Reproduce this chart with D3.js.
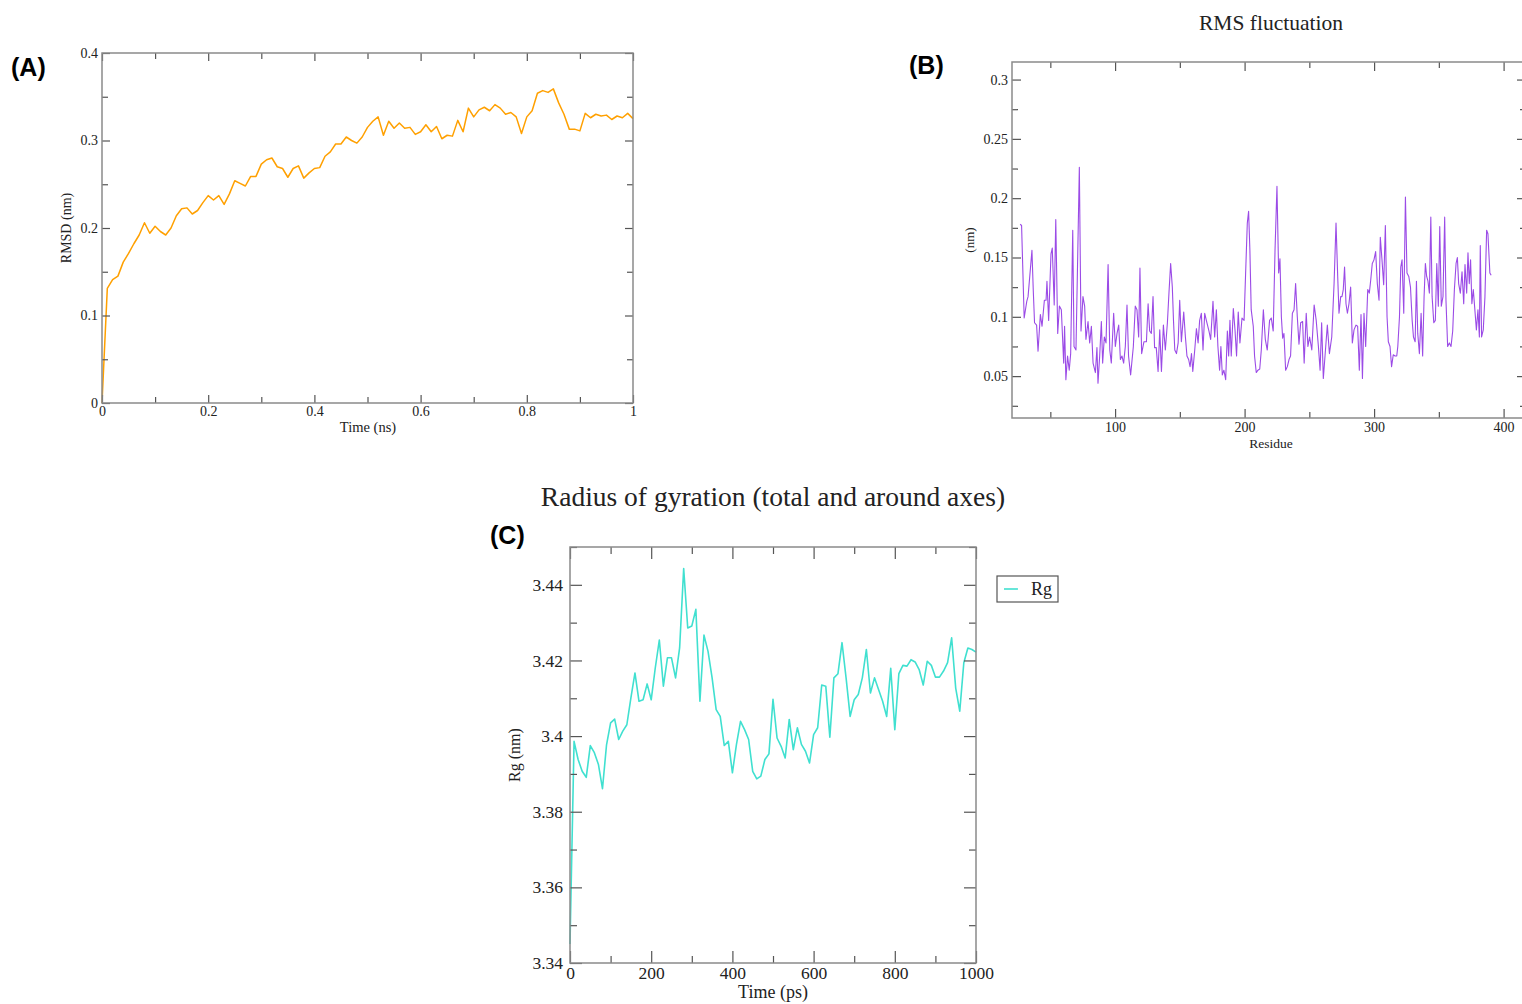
<!DOCTYPE html>
<html><head><meta charset="utf-8">
<script src="https://cdn.jsdelivr.net/npm/d3@7"></script>
<style>
body{margin:0;background:#fff;}
svg{display:block;}
</style></head>
<body>
<svg id="chart" width="1522" height="1004"></svg>
<script>
// ---------- Panel A: RMSD (nm) vs Time (ns) ----------
const rmsdTime = [0,0.01,0.02,0.03,0.04,0.05,0.06,0.07,0.08,0.09,0.10,0.11,0.12,0.13,0.14,0.15,0.16,0.17,0.18,0.19,
  0.20,0.21,0.22,0.23,0.24,0.25,0.26,0.27,0.28,0.29,0.30,0.31,0.32,0.33,0.34,0.35,0.36,0.37,0.38,0.39,
  0.40,0.41,0.42,0.43,0.44,0.45,0.46,0.47,0.48,0.49,0.50,0.51,0.52,0.53,0.54,0.55,0.56,0.57,0.58,0.59,
  0.60,0.61,0.62,0.63,0.64,0.65,0.66,0.67,0.68,0.69,0.70,0.71,0.72,0.73,0.74,0.75,0.76,0.77,0.78,0.79,
  0.80,0.81,0.82,0.83,0.84,0.85,0.86,0.87,0.88,0.89,0.90,0.91,0.92,0.93,0.94,0.95,0.96,0.97,0.98,0.99,1.00];
const rmsdValue = [0,0.131,0.141,0.145,0.161,0.171,0.182,0.192,0.206,0.194,0.202,0.196,0.192,0.200,0.214,0.222,0.223,0.216,0.220,0.229,
  0.237,0.232,0.237,0.227,0.239,0.254,0.251,0.248,0.259,0.259,0.273,0.278,0.280,0.270,0.268,0.258,0.268,0.271,0.257,0.263,
  0.268,0.269,0.282,0.287,0.296,0.296,0.304,0.300,0.297,0.304,0.315,0.322,0.327,0.306,0.322,0.314,0.320,0.314,0.315,0.307,
  0.310,0.318,0.310,0.316,0.302,0.306,0.305,0.323,0.310,0.337,0.327,0.335,0.338,0.334,0.341,0.337,0.330,0.332,0.327,0.308,
  0.327,0.334,0.354,0.357,0.355,0.359,0.343,0.330,0.313,0.313,0.311,0.331,0.326,0.330,0.328,0.329,0.324,0.328,0.326,0.331,0.325];
const aXTicks = [0,0.2,0.4,0.6,0.8,1];
const aXTickLabels = ["0","0.2","0.4","0.6","0.8","1"];
const aYTicks = [0,0.1,0.2,0.3,0.4];
const aYTickLabels = ["0","0.1","0.2","0.3","0.4"];

// ---------- Panel B: RMS fluctuation (nm) vs Residue ----------
const rmsfResidue = [26.7,27.8,29.8,31.8,32.8,35.8,36.8,37.8,39.4,40.5,42.3,43.6,45.4,46.7,47.4,48.7,50.5,51.5,53.0,54.2,
  55.7,57.0,58.5,60.3,61.0,62.0,63.3,64.6,65.7,67.3,68.3,69.8,72.4,73.7,75.2,76.5,77.5,79.1,80.4,81.7,
  83.0,84.8,86.0,86.8,88.1,89.4,90.4,91.7,93.0,94.6,95.9,97.1,98.9,100.2,101.5,102.8,104.1,105.3,106.6,107.9,
  109.2,110.4,112.0,114.1,115.6,116.9,118.2,119.2,120.5,122.3,124.2,125.5,126.7,128.0,129.3,130.5,131.8,133.2,134.5,135.8,
  137.3,138.8,140.4,141.6,142.9,144.2,145.1,146.1,147.4,148.7,149.9,151.2,153.0,154.3,155.5,156.8,157.9,159.0,160.0,161.5,
  162.8,164.1,165.3,166.6,167.9,169.2,170.7,172.5,173.8,175.6,176.9,178.2,179.4,180.7,181.7,182.8,184.0,185.4,186.7,187.7,
  188.7,189.7,191.3,192.6,193.8,195.1,196.4,198.0,199.6,200.8,202.1,203.1,204.1,205.1,206.7,207.7,209.0,210.3,211.7,212.9,
  214.5,216.0,217.5,219.3,220.6,222.1,223.5,225.0,226.3,227.3,228.4,229.4,230.4,231.7,233.0,234.3,235.5,236.9,238.2,239.4,
  240.7,242.0,243.3,244.8,246.0,247.6,248.9,250.2,251.9,253.7,255.3,257.0,258.3,259.5,260.8,262.1,263.9,265.5,267.3,269.1,
  270.6,271.9,272.9,274.2,275.2,276.2,277.2,278.3,279.4,280.6,281.9,283.2,284.5,286.0,287.3,288.6,289.9,291.0,292.2,293.5,
  295.1,296.3,297.4,298.6,299.9,301.2,302.5,303.8,304.8,306.1,307.4,308.7,310.0,311.0,312.3,313.5,314.8,316.2,317.5,318.3,
  319.6,320.6,321.6,322.9,324.2,325.4,326.8,328.1,329.4,330.4,331.7,332.7,333.7,335.0,336.3,337.5,338.6,339.6,340.6,341.6,
  342.7,343.8,344.8,346.1,347.3,348.4,349.6,350.7,351.9,353.2,354.5,355.5,356.8,358.1,359.4,360.7,362.0,363.3,364.3,365.3,
  366.6,367.9,369.2,370.2,371.5,372.5,373.5,374.5,375.5,376.6,377.6,379.0,380.2,381.3,382.0,383.0,384.3,385.6,386.9,387.9,
  389.4,390.4];
const rmsfValue = [0.178,0.177,0.099,0.113,0.117,0.156,0.123,0.095,0.093,0.071,0.102,0.092,0.114,0.114,0.130,0.097,0.153,0.158,0.110,0.182,
  0.086,0.109,0.106,0.061,0.092,0.047,0.067,0.055,0.069,0.173,0.075,0.072,0.226,0.088,0.117,0.109,0.081,0.096,0.078,0.092,
  0.061,0.053,0.074,0.044,0.067,0.096,0.061,0.083,0.078,0.144,0.072,0.061,0.103,0.075,0.086,0.093,0.064,0.067,0.061,0.075,
  0.110,0.067,0.051,0.075,0.109,0.106,0.083,0.141,0.069,0.079,0.079,0.111,0.088,0.086,0.117,0.074,0.074,0.054,0.089,0.054,
  0.093,0.072,0.095,0.120,0.145,0.125,0.097,0.072,0.069,0.078,0.114,0.079,0.104,0.083,0.067,0.064,0.058,0.069,0.054,0.072,
  0.090,0.078,0.097,0.103,0.072,0.103,0.096,0.088,0.081,0.113,0.083,0.106,0.075,0.055,0.075,0.051,0.055,0.047,0.088,0.067,
  0.097,0.067,0.107,0.089,0.067,0.104,0.078,0.099,0.097,0.137,0.179,0.189,0.156,0.106,0.092,0.067,0.053,0.055,0.056,0.072,
  0.106,0.081,0.072,0.097,0.099,0.088,0.156,0.210,0.137,0.149,0.100,0.082,0.086,0.055,0.058,0.064,0.067,0.103,0.106,0.128,
  0.100,0.077,0.095,0.096,0.061,0.103,0.075,0.083,0.072,0.110,0.097,0.075,0.055,0.095,0.048,0.067,0.093,0.069,0.083,0.128,
  0.179,0.134,0.103,0.117,0.117,0.123,0.142,0.111,0.103,0.111,0.125,0.078,0.089,0.093,0.092,0.055,0.102,0.048,0.103,0.075,
  0.123,0.120,0.131,0.145,0.148,0.155,0.128,0.114,0.167,0.148,0.127,0.177,0.100,0.079,0.075,0.058,0.068,0.067,0.067,0.075,
  0.100,0.142,0.148,0.103,0.201,0.137,0.134,0.125,0.097,0.083,0.079,0.130,0.086,0.069,0.103,0.067,0.117,0.145,0.134,0.130,
  0.120,0.184,0.117,0.095,0.097,0.145,0.109,0.176,0.109,0.117,0.184,0.114,0.075,0.078,0.075,0.088,0.123,0.145,0.150,0.128,
  0.120,0.138,0.111,0.144,0.120,0.154,0.128,0.148,0.111,0.123,0.109,0.089,0.106,0.083,0.160,0.083,0.089,0.117,0.173,0.170,
  0.137,0.135];
const bXTicks = [100,200,300,400];
const bXTickLabels = ["100","200","300","400"];
const bYTicks = [0.05,0.1,0.15,0.2,0.25,0.3];
const bYTickLabels = ["0.05","0.1","0.15","0.2","0.25","0.3"];

// ---------- Panel C: Radius of gyration ----------
const rgTime = [0,10,20,30,40,50,60,70,80,90,100,110,120,130,140,150,160,170,180,190,
  200,210,220,230,240,250,260,270,280,290,300,310,320,330,340,350,360,370,380,390,
  400,410,420,430,440,450,460,470,480,490,500,510,520,530,540,550,560,570,580,590,
  600,610,620,630,640,650,660,670,680,690,700,710,720,730,740,750,760,770,780,790,
  800,810,820,830,840,850,860,870,880,890,900,910,920,930,940,950,960,970,980,990,1000];
const rgValue = [3.345,3.3986,3.3938,3.3907,3.3891,3.3975,3.3956,3.3925,3.3861,3.3977,3.4035,3.4045,3.3991,3.4013,3.4030,3.4101,3.4167,3.4092,3.4096,3.4138,
  3.4096,3.4180,3.4254,3.4132,3.4207,3.4207,3.4154,3.4233,3.4443,3.4286,3.4291,3.4335,3.4092,3.4267,3.4224,3.4154,3.4070,3.4052,3.3975,3.3986,
  3.3903,3.3978,3.4039,3.4017,3.3991,3.3907,3.3887,3.3894,3.3938,3.3953,3.4097,3.3995,3.3973,3.3942,3.4044,3.3964,3.4022,3.3978,3.3960,3.3929,
  3.4004,3.4022,3.4135,3.4132,3.3997,3.4154,3.4165,3.4247,3.4154,3.4052,3.4096,3.4110,3.4154,3.4229,3.4114,3.4154,3.4123,3.4092,3.4052,3.4179,
  3.4017,3.4165,3.4187,3.4185,3.4202,3.4196,3.4176,3.4135,3.4198,3.4187,3.4156,3.4156,3.4172,3.4194,3.4260,3.4127,3.4066,3.4194,3.4233,3.4229,3.4222];
const cXTicks = [0,200,400,600,800,1000];
const cXTickLabels = ["0","200","400","600","800","1000"];
const cYTicks = [3.34,3.36,3.38,3.40,3.42,3.44];
const cYTickLabels = ["3.34","3.36","3.38","3.4","3.42","3.44"];
const legendLabels = ["Rg"];

// ---------- drawing ----------
const svg = d3.select("#chart");
const SERIF = "'Liberation Serif','Times New Roman',serif";
const SANS = "'Liberation Sans',Arial,sans-serif";

function drawPanel(o) {
  const x = d3.scaleLinear().domain(o.xDomain).range([o.left, o.right]);
  const y = d3.scaleLinear().domain(o.yDomain).range([o.bottom, o.top]);
  const g = svg.append("g");

  const pts = o.xs.map((v, i) => [v, o.ys[i]]);
  g.append("path")
    .datum(pts)
    .attr("fill", "none")
    .attr("stroke", o.color)
    .attr("stroke-width", o.lineWidth)
    .attr("stroke-opacity", o.lineOpacity || 1)
    .attr("stroke-linejoin", "round")
    .attr("d", d3.line().x(d => x(d[0])).y(d => y(d[1])));

  const styleAxis = (sel, fs) => {
    sel.select(".domain").remove();
    sel.selectAll(".tick line").attr("stroke", "#555").attr("stroke-width", 1.2);
    sel.selectAll(".tick text").attr("fill", "#222").style("font-family", SERIF).style("font-size", fs + "px");
  };

  const bx = g.append("g").attr("transform", `translate(0,${o.bottom})`)
    .call(d3.axisBottom(x).tickValues(o.xTicks).tickFormat((d, i) => o.xTickLabels[i]).tickSize(-o.major).tickPadding(o.xPad));
  styleAxis(bx, o.fs);
  const ly = g.append("g").attr("transform", `translate(${o.left},0)`)
    .call(d3.axisLeft(y).tickValues(o.yTicks).tickFormat((d, i) => o.yTickLabels[i]).tickSize(-o.major).tickPadding(o.yPad));
  styleAxis(ly, o.fs);
  const tx = g.append("g").attr("transform", `translate(0,${o.top})`)
    .call(d3.axisTop(x).tickValues(o.xTicks).tickFormat("").tickSize(-o.major));
  styleAxis(tx, o.fs);
  const ry = g.append("g").attr("transform", `translate(${o.right},0)`)
    .call(d3.axisRight(y).tickValues(o.yTicks).tickFormat("").tickSize(-o.major));
  styleAxis(ry, o.fs);
  [[d3.axisBottom(x), `translate(0,${o.bottom})`, o.xMinor],
   [d3.axisTop(x), `translate(0,${o.top})`, o.xMinor],
   [d3.axisLeft(y), `translate(${o.left},0)`, o.yMinor],
   [d3.axisRight(y), `translate(${o.right},0)`, o.yMinor]].forEach(([ax, tr, vals]) => {
    const s = g.append("g").attr("transform", tr).call(ax.tickValues(vals).tickFormat("").tickSize(-o.minor));
    styleAxis(s, o.fs);
  });

  g.append("rect").attr("x", o.left).attr("y", o.top)
    .attr("width", o.right - o.left).attr("height", o.bottom - o.top)
    .attr("fill", "none").attr("stroke", "#8a8a8a").attr("stroke-width", 1.5);

  g.append("text").attr("x", o.xLabelX).attr("y", o.xLabelY)
    .attr("text-anchor", "middle").attr("fill", "#222")
    .style("font-family", SERIF).style("font-size", o.labelFs + "px").text(o.xLabel);
  g.append("text").attr("transform", `translate(${o.yLabelX},${o.yLabelMid}) rotate(-90)`)
    .attr("text-anchor", "middle").attr("fill", "#222")
    .style("font-family", SERIF).style("font-size", o.yLabelFs + "px").text(o.yLabel);
  return {x, y, g};
}

function range(a, b, s) { const r = []; for (let v = a; v <= b + 1e-9; v += s) r.push(+v.toFixed(6)); return r; }

// Panel A
drawPanel({
  xs: rmsdTime, ys: rmsdValue, color: "#ffa000", lineWidth: 1.5,
  xDomain: [0, 1], yDomain: [0, 0.4], left: 102, right: 633, top: 53, bottom: 403,
  xTicks: aXTicks, xTickLabels: aXTickLabels, yTicks: aYTicks, yTickLabels: aYTickLabels,
  xMinor: range(0.1, 0.9, 0.2), yMinor: range(0.05, 0.35, 0.1),
  major: 8, minor: 6, fs: 14, xPad: 3, yPad: 4,
  xLabel: "Time (ns)", yLabel: "RMSD (nm)", xLabelX: 368, xLabelY: 432, yLabelX: 71, yLabelMid: 228,
  labelFs: 14.5, yLabelFs: 14
});

// Panel B (right frame edge lies just beyond the picture)
drawPanel({
  xs: rmsfResidue, ys: rmsfValue, color: "#8a2be2", lineWidth: 1.1, lineOpacity: 0.85,
  xDomain: [20.4, 417.3], yDomain: [0.0147, 0.3148], left: 1012, right: 1526, top: 62, bottom: 418,
  xTicks: bXTicks, xTickLabels: bXTickLabels, yTicks: bYTicks, yTickLabels: bYTickLabels,
  xMinor: range(50, 400, 100), yMinor: range(0.025, 0.3, 0.05),
  major: 9, minor: 6, fs: 14, xPad: 4, yPad: 4,
  xLabel: "Residue", yLabel: "(nm)", xLabelX: 1271, xLabelY: 448, yLabelX: 974, yLabelMid: 240,
  labelFs: 13.5, yLabelFs: 13
});

// Panel C
drawPanel({
  xs: rgTime, ys: rgValue, color: "#40e0d0", lineWidth: 1.6,
  xDomain: [0, 1000], yDomain: [3.34, 3.45], left: 570, right: 976, top: 547, bottom: 963,
  xTicks: cXTicks, xTickLabels: cXTickLabels, yTicks: cYTicks, yTickLabels: cYTickLabels,
  xMinor: range(100, 900, 200), yMinor: range(3.35, 3.45, 0.02),
  major: 12, minor: 7, fs: 17.5, xPad: 4, yPad: 7,
  xLabel: "Time (ps)", yLabel: "Rg (nm)", xLabelX: 773, xLabelY: 998, yLabelX: 520, yLabelMid: 755,
  labelFs: 18, yLabelFs: 16
});

// Legend for C
const lg = svg.append("g");
lg.append("rect").attr("x", 997).attr("y", 576).attr("width", 61).attr("height", 26)
  .attr("fill", "#fff").attr("stroke", "#555").attr("stroke-width", 1.2);
lg.append("line").attr("x1", 1004).attr("x2", 1018).attr("y1", 589).attr("y2", 589)
  .attr("stroke", "#40e0d0").attr("stroke-width", 1.6);
lg.append("text").attr("x", 1031).attr("y", 595).attr("fill", "#222")
  .style("font-family", SERIF).style("font-size", "18px").text(legendLabels[0]);

// Titles
svg.append("text").attr("x", 1271).attr("y", 30).attr("text-anchor", "middle").attr("fill", "#222")
  .style("font-family", SERIF).style("font-size", "21.5px").text("RMS fluctuation");
svg.append("text").attr("x", 773).attr("y", 506).attr("text-anchor", "middle").attr("fill", "#222")
  .style("font-family", SERIF).style("font-size", "27.5px").text("Radius of gyration (total and around axes)");

// Panel letters
[["(A)", 11, 76], ["(B)", 909, 74], ["(C)", 490, 544]].forEach(([t, px, py]) => {
  svg.append("text").attr("x", px).attr("y", py).attr("fill", "#000")
    .style("font-family", SANS).style("font-weight", "bold").style("font-size", "25px").text(t);
});
</script>
</body></html>
